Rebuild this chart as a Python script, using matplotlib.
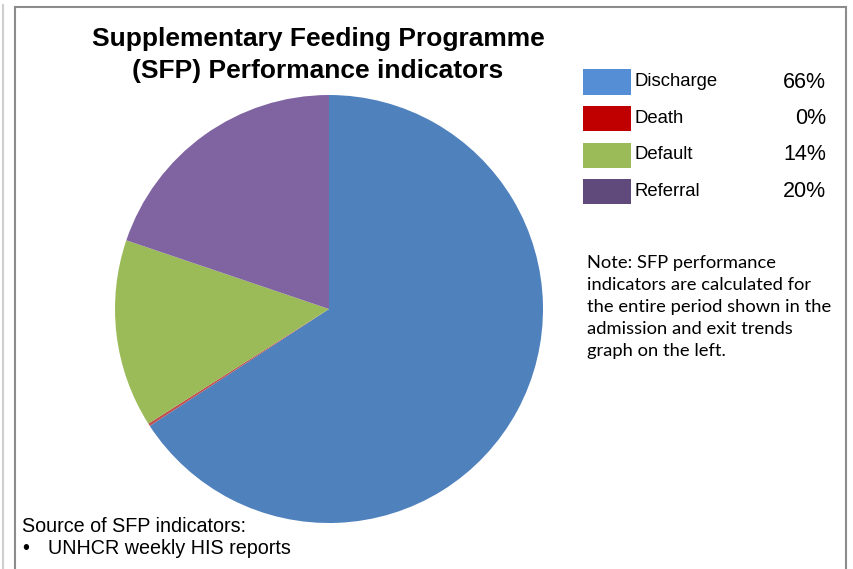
import matplotlib
matplotlib.use("Agg")
import matplotlib.pyplot as plt
from matplotlib.patches import Rectangle
from matplotlib.lines import Line2D

# data
labels = ["Discharge", "Death", "Default", "Referral"]
values = [65.8, 0.2, 14.2, 19.8]
pct_text = ["66%", "0%", "14%", "20%"]
pie_colors = ["#4F81BD", "#C0504D", "#9BBB59", "#8064A2"]
legend_colors = ["#558ED5", "#C00000", "#9BBB59", "#604A7B"]

W, H = 854, 569
fig = plt.figure(figsize=(W / 100, H / 100), dpi=100)
plt.rcParams['font.family'] = ['Liberation Sans', 'DejaVu Sans']

def fx(px):
    return px / W

def fy(py):
    return 1 - py / H

# frame lines
fig.add_artist(Line2D([fx(15), fx(15)], [fy(7), 0], color="#8c8c8c", lw=1.5))
fig.add_artist(Line2D([fx(15), fx(846)], [fy(7), fy(7)], color="#8c8c8c", lw=1.5))
fig.add_artist(Line2D([fx(846), fx(846)], [fy(7), 0], color="#8c8c8c", lw=1.5))
fig.add_artist(Line2D([fx(3.5), fx(3.5)], [fy(5), 0], color="#cfcfcf", lw=1.5))

# pie
ax = fig.add_axes([fx(115), fy(523), 428 / W, 428 / H])
ax.pie(values, colors=pie_colors, startangle=90, counterclock=False,
       wedgeprops=dict(linewidth=0))
ax.set_xlim(-1, 1)
ax.set_ylim(-1, 1)
ax.set_aspect("equal")
ax.axis("off")

# title
fig.text(fx(318), fy(55), "Supplementary Feeding Programme\n(SFP) Performance indicators",
         ha="center", va="center", fontsize=19, fontweight="bold", linespacing=1.38)

# legend
for i, (lab, col, pct) in enumerate(zip(labels, legend_colors, pct_text)):
    yc = 82 + i * 36.5
    fig.add_artist(Rectangle((fx(583), fy(yc + 12.5)), 48 / W, 25 / H,
                             transform=fig.transFigure, color=col, lw=0))
    fig.text(fx(634), fy(yc), lab, ha="left", va="center", fontsize=13.3)
    fig.text(fx(826), fy(yc), pct, ha="right", va="center", fontsize=15.5)

# note
note = ("Note: SFP performance\nindicators are calculated for\nthe entire period shown in the\n"
        "admission and exit trends\ngraph on the left.")
fig.text(fx(587), fy(307), note, ha="left", va="center", fontsize=13.2,
         family=["Lato", "DejaVu Sans"], linespacing=1.45)

# source
fig.text(fx(22), fy(526), "Source of SFP indicators:", ha="left", va="center", fontsize=14.2)
fig.text(fx(22), fy(549), "\u2022", ha="left", va="center", fontsize=14.2)
fig.text(fx(48), fy(549), "UNHCR weekly HIS reports", ha="left", va="center", fontsize=14.2)

fig.savefig("out.png", dpi=100)
